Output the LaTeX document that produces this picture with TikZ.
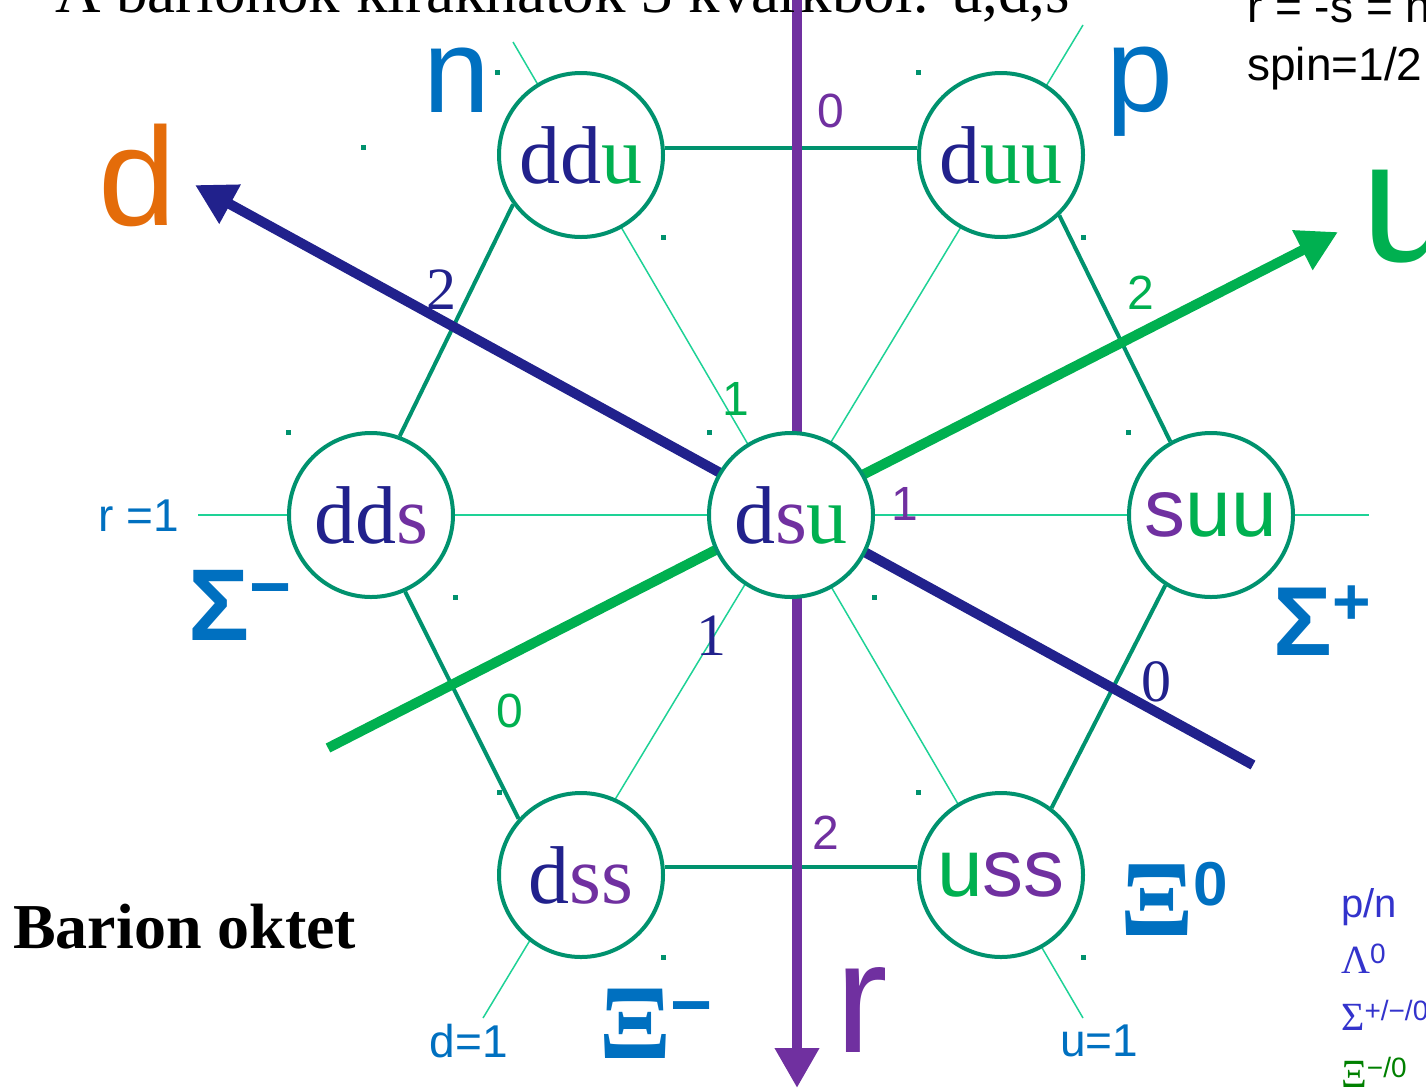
\documentclass[tikz,border=0pt]{standalone}
\usepackage{fontspec}
\setmainfont{Liberation Serif}
\setsansfont{Liberation Sans}
\usetikzlibrary{arrows.meta,backgrounds}
\definecolor{hexteal}{RGB}{0,146,110}
\definecolor{gridgreen}{RGB}{30,210,150}
\definecolor{qnavy}{RGB}{33,33,140}
\definecolor{qpurple}{RGB}{112,48,160}
\definecolor{qgreen}{RGB}{0,176,80}
\definecolor{lblue}{RGB}{0,112,192}
\definecolor{qorange}{RGB}{228,108,10}
\definecolor{legblue}{RGB}{51,51,204}
\definecolor{leggreen}{RGB}{0,128,0}
\newcommand{\qd}[1]{\textcolor{qnavy}{#1}}
\newcommand{\qs}[1]{\textcolor{qpurple}{#1}}
\newcommand{\qu}[1]{\textcolor{qgreen}{#1}}
\newcommand{\fsz}[1]{\fontsize{#1}{#1}\selectfont}
\newcommand{\charge}[3]{\raisebox{#1}{\sffamily\bfseries\fsz{#2}#3}}
\tikzset{
  hadron/.style={circle,draw=hexteal,line width=4pt,fill=white,minimum size=164pt,inner sep=0pt,font=\fsz{82}},
  hexedge/.style={draw=hexteal,line width=4pt},
  gridline/.style={draw=gridgreen,line width=1.5pt},
  axis/.style={line width=10pt,-{Triangle[length=40pt,width=42pt]}},
  marker/.style={fill=hexteal},
  lbl/.style={inner sep=0pt},
  num/.style={inner sep=0pt,font=\sffamily\fsz{48}},
  snum/.style={inner sep=0pt,font=\fsz{60},text=qnavy},
  particle/.style={inner sep=0pt,anchor=base west,text=lblue},
}
\begin{document}
\begin{tikzpicture}[x=1pt,y=-1pt]
\useasboundingbox (0,0) rectangle (1426,1088);
% the octet
\node[hadron] (ddu) at (581,155) {\qd{dd}\qu{u}};
\node[hadron] (duu) at (1001,155) {\qd{d}\qu{uu}};
\node[hadron] (dds) at (371,515) {\qd{dd}\qs{s}};
\node[hadron] (dsu) at (791,515) {\qd{d}\qs{s}\qu{u}};
\node[hadron] (suu) at (1211,515) {\sffamily\qs{s}\qu{uu}};
\node[hadron] (dss) at (581,875) {\qd{d}\qs{ss}};
\node[hadron] (uss) at (1001,875) {\sffamily\qu{u}\qs{ss}};
% axis ends
\coordinate (gA) at (513,42); \coordinate (gB) at (1083,1018);
\coordinate (gC) at (1083,25); \coordinate (gD) at (483,1018);
\coordinate (gE) at (198,515); \coordinate (gF) at (1369,515);
\coordinate (rtop) at (797,-20); \coordinate (rbot) at (797,1088);
\coordinate (dstart) at (1253,765); \coordinate (dtip) at (195,185);
\coordinate (ustart) at (328,748); \coordinate (utip) at (1338,232);
\begin{scope}[on background layer]
\draw[gridline] (gA) -- (gB); \draw[gridline] (gC) -- (gD); \draw[gridline] (gE) -- (gF);
\draw[hexedge] ([yshift=7pt]ddu.east) -- ([yshift=7pt]duu.west);
\draw[hexedge] ([yshift=8pt]dss.east) -- ([yshift=8pt]uss.west);
\draw[hexedge] (ddu.216) -- (dds.70); \draw[hexedge] (duu.314) -- (suu.119);
\draw[hexedge] (dds.294) -- (dss.138); \draw[hexedge] (suu.237) -- (uss.53);
\draw[axis,qpurple] (rtop) -- (rbot);
\draw[axis,qnavy] (dstart) -- (dtip);
\draw[axis,qgreen] (ustart) -- (utip);
\end{scope}
% selection dots
\foreach \x/\y in {497/72,363/147,918/72,663/237,1083/237,288/432,709/432,1128/432,455/597,874/597,499/792,918/792,663/957,1083/957}
  \fill[marker] (\x-2.5,\y-2.5) rectangle +(5,5);
% axis names and particle names
\node[lbl,text=qorange,font=\sffamily\fsz{140}] (dname) at (137,175) {d};
\node[lbl,text=qgreen,font=\sffamily\fsz{173}] (uname) at (1410,217) {u};
\node[lbl,text=qpurple,font=\sffamily\fsz{158}] (rname) at (862,1010) {r};
\node[lbl,text=lblue,font=\sffamily\fsz{120}] (nname) at (457,80) {n};
\node[lbl,text=lblue,font=\sffamily\fsz{120}] (pname) at (1140,92) {p};
\node[particle,font=\sffamily\bfseries\fsz{102}] (sigm) at (188,640) {Σ\charge{29pt}{72}{−}};
\node[particle,font=\sffamily\bfseries\fsz{98}] (sigp) at (1273,655) {Σ\charge{31pt}{66}{+}};
\node[particle,font=\bfseries\fsz{108}] (xizero) at (1120,935) {Ξ\charge{30pt}{62}{0}};
\node[particle,font=\bfseries\fsz{106}] (ximinus) at (599,1058) {Ξ\charge{29pt}{72}{−}};
\node[lbl,text=lblue,font=\sffamily\fsz{46}] (rone) at (139,516) {r =1};
\node[lbl,text=lblue,font=\sffamily\fsz{46}] (done) at (469,1041) {d=1};
\node[lbl,text=lblue,font=\sffamily\fsz{46}] (uone) at (1099,1041) {u=1};
% scale values
\node[num,text=qpurple] at (831,111) {0};
\node[num,text=qpurple] at (905,504) {1};
\node[num,text=qpurple] at (826,833) {2};
\node[snum] at (441,290) {2};
\node[snum] at (711,636) {1};
\node[snum] at (1156,682) {0};
\node[num,text=qgreen] at (1141,293) {2};
\node[num,text=qgreen] at (736,399) {1};
\node[num,text=qgreen] at (510,711) {0};
% titles and legend
\node[lbl,anchor=base west,font=\fsz{63}] (title) at (55,12) {A barionok kirakhatók 3 kvarkból: u,d,s};
\node[lbl,anchor=base west,font=\bfseries\fsz{64}] (octet) at (13,948) {Barion oktet};
\node[lbl,anchor=base west,font=\sffamily\fsz{46}] (rule) at (1247,22) {r = -s = n};
\node[lbl,anchor=base west,font=\sffamily\fsz{46}] (spin) at (1247,80) {spin=1/2};
\node[lbl,anchor=base west,text=legblue,font=\sffamily\fsz{40}] (legpn) at (1341,917) {p/n};
\node[lbl,anchor=base west,text=legblue,font=\fsz{40}] (leglam) at (1341,973) {Λ\textsuperscript{\sffamily 0}};
\node[lbl,anchor=base west,text=legblue,font=\fsz{40}] (legsig) at (1341,1030) {Σ\textsuperscript{\sffamily +/−/0}};
\node[lbl,anchor=base west,text=leggreen,font=\fsz{40}] (legxi) at (1341,1087) {Ξ\textsuperscript{\sffamily −/0}};
\end{tikzpicture}
\end{document}
